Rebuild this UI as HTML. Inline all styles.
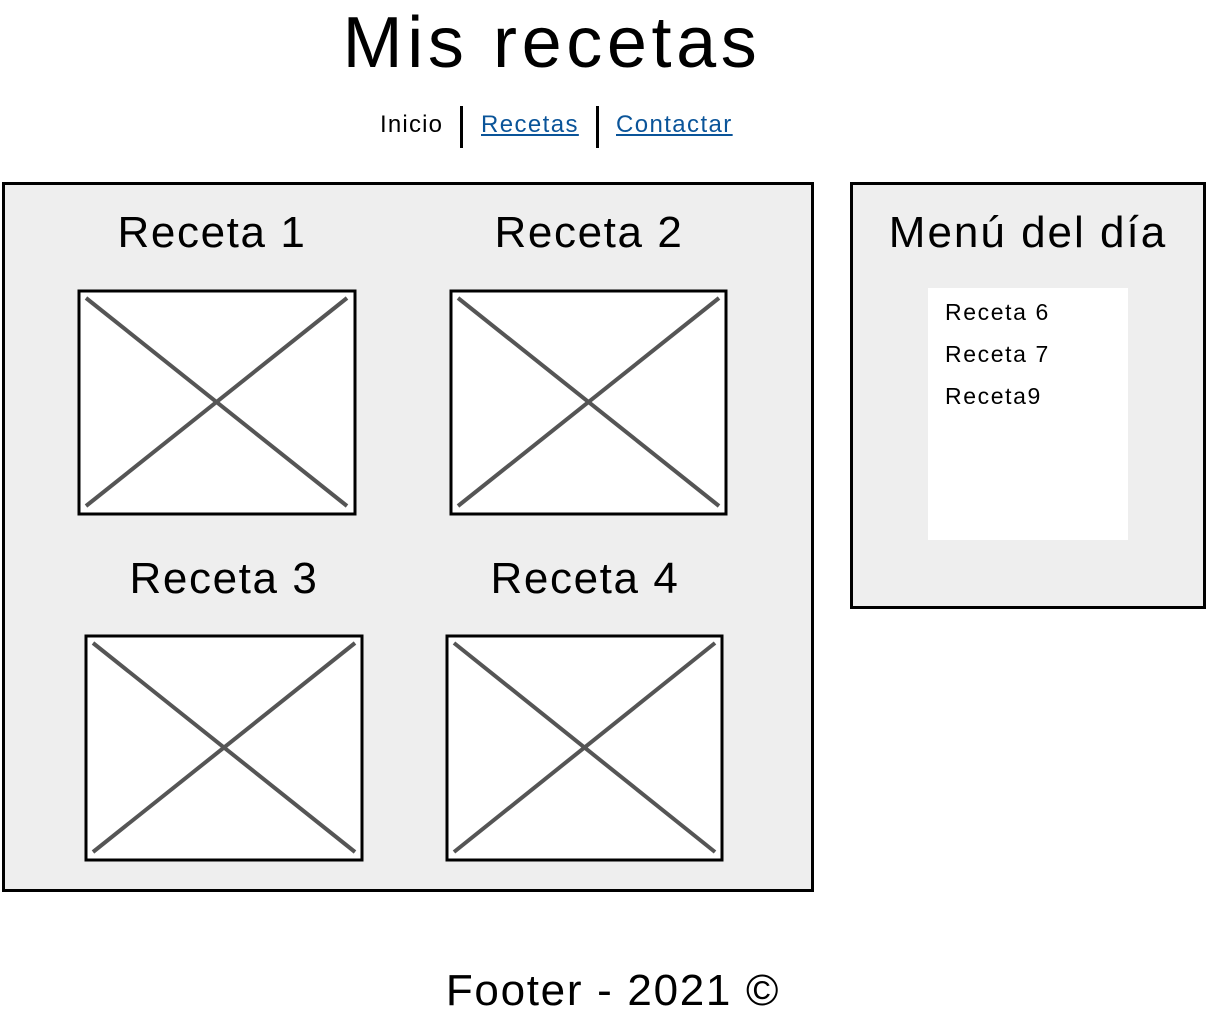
<!DOCTYPE html>
<html><head><meta charset="utf-8"><style>
body{margin:0;width:1208px;height:1026px;background:#fff;position:relative;font-family:"Liberation Sans",sans-serif;overflow:hidden}
.t{position:absolute;white-space:nowrap;color:#000}
.box{position:absolute;border:3px solid #000;box-sizing:border-box}
a{color:#0a5499;text-decoration:underline}
.h{font-size:44px;letter-spacing:1.6px}
.s{font-size:23px;letter-spacing:1.6px}
</style></head><body>
<div class="t" style="left:0;width:1104px;text-align:center;top:2px;font-size:72px;letter-spacing:4.6px">Mis recetas</div>
<div class="t" style="left:380px;top:111px;font-size:24px;letter-spacing:1.2px">Inicio</div>
<div style="position:absolute;left:460px;top:106px;width:3px;height:42px;background:#000"></div>
<div class="t" style="left:481px;top:111px;font-size:24px;letter-spacing:1.4px"><a>Recetas</a></div>
<div style="position:absolute;left:596px;top:106px;width:3px;height:42px;background:#000"></div>
<div class="t" style="left:616px;top:111px;font-size:24px;letter-spacing:1.4px"><a>Contactar</a></div>

<div class="box" style="left:2px;top:182px;width:812px;height:710px;background:#eee"></div>
<div class="box" style="left:850px;top:182px;width:356px;height:427px;background:#eee"></div>
<div style="position:absolute;left:928px;top:288px;width:200px;height:252px;background:#fff"></div>
<div class="t h" style="left:850px;width:356px;text-align:center;top:208px;letter-spacing:2px">Menú del día</div>
<div class="t s" style="left:945px;top:299px;">Receta 6</div>
<div class="t s" style="left:945px;top:341px;">Receta 7</div>
<div class="t s" style="left:945px;top:383px;">Receta9</div>

<div class="t h" style="left:74px;width:276px;text-align:center;top:208px;">Receta 1</div>
<div class="t h" style="left:451px;width:276px;text-align:center;top:208px;">Receta 2</div>
<div class="t h" style="left:86px;width:276px;text-align:center;top:554px;">Receta 3</div>
<div class="t h" style="left:447px;width:276px;text-align:center;top:554px;">Receta 4</div>

<svg width="1208" height="1026" style="position:absolute;left:0;top:0">
<g stroke="#000" stroke-width="3" fill="#fff">
<rect x="79" y="291" width="276" height="223"/>
<rect x="451" y="291" width="275" height="223"/>
<rect x="86" y="636" width="276" height="224"/>
<rect x="447" y="636" width="275" height="224"/>
</g>
<g stroke="#555" stroke-width="4">
<line x1="86" y1="298" x2="347" y2="506"/><line x1="347" y1="298" x2="86" y2="506"/>
<line x1="458" y1="298" x2="719" y2="506"/><line x1="719" y1="298" x2="458" y2="506"/>
<line x1="93" y1="643" x2="355" y2="852"/><line x1="355" y1="643" x2="93" y2="852"/>
<line x1="454" y1="643" x2="715" y2="852"/><line x1="715" y1="643" x2="454" y2="852"/>
</g>
</svg>
<div class="t" style="left:0;width:1226px;text-align:center;top:966px;font-size:44px;letter-spacing:1.7px">Footer - 2021 ©</div>
</body></html>
